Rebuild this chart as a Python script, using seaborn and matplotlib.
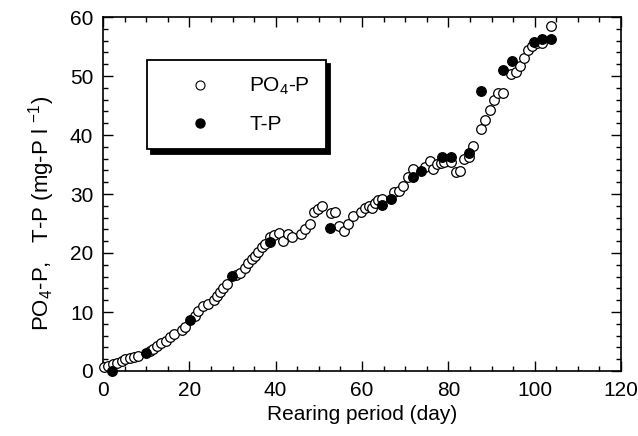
import matplotlib
matplotlib.use("Agg")
import matplotlib.pyplot as plt
import matplotlib.legend as mlegend
from matplotlib.patches import Shadow
from matplotlib.ticker import MultipleLocator
from matplotlib.lines import Line2D
import seaborn as sns
import pandas as pd

# ---------------- data ----------------
po4_day = [0.3, 1.2, 2.3, 3.3, 4.3, 5.2, 6.2, 7.1, 8.1, 10.8, 11.6, 12.6, 13.5, 14.5,
           15.5, 16.5, 18.2, 19.0, 21.3, 22.0, 23.2, 24.3, 25.6, 26.4, 27.1, 27.9,
           28.7, 30.8, 31.8, 32.9, 33.7, 34.5, 35.3, 36.0, 36.8, 37.6, 38.7, 39.7,
           40.8, 41.8, 42.8, 43.8, 45.9, 46.9, 47.9, 48.8, 49.8, 50.7, 52.9, 53.8,
           54.7, 55.8, 56.8, 57.8, 59.7, 60.8, 61.7, 62.4, 62.9, 63.8, 64.7, 67.5,
           68.6, 69.6, 70.6, 71.9, 74.6, 75.7, 76.5, 77.3, 78.3, 79.0, 80.6, 81.7,
           82.7, 83.6, 84.7, 85.7, 87.6, 88.6, 89.6, 90.6, 91.6, 92.6, 94.6, 95.6,
           96.6, 97.5, 98.5, 99.3, 100.5, 101.6, 103.8]
po4_val = [0.6, 0.9, 1.2, 1.4, 1.7, 2.0, 2.2, 2.4, 2.5, 3.4, 3.8, 4.2, 4.7, 5.1,
           5.7, 6.2, 6.9, 7.4, 9.3, 10.2, 11.0, 11.3, 12.0, 12.7, 13.4, 14.0,
           14.7, 16.2, 16.6, 17.4, 18.3, 18.9, 19.5, 20.2, 21.1, 21.5, 22.7, 23.0,
           23.4, 22.1, 23.2, 22.7, 23.3, 24.1, 24.9, 26.9, 27.4, 28.0, 26.8, 27.0,
           24.5, 23.8, 25.0, 26.2, 26.9, 27.6, 28.0, 27.6, 28.5, 29.0, 29.2, 30.3,
           30.5, 31.3, 32.9, 34.2, 34.5, 35.6, 34.2, 35.1, 35.3, 35.5, 35.5, 33.8,
           33.9, 36.0, 36.3, 38.1, 41.1, 42.5, 44.2, 46.0, 47.1, 47.1, 50.3, 50.6,
           51.7, 53.0, 54.4, 55.1, 55.6, 55.6, 58.4]

tp_day = [2.1, 10.0, 20.1, 29.9, 38.8, 52.7, 64.7, 66.7, 71.7, 73.7, 78.6, 80.6,
          84.8, 87.6, 92.7, 94.7, 99.8, 101.8, 103.8]
tp_val = [0.0, 3.0, 8.7, 16.1, 21.8, 24.3, 28.1, 29.2, 32.9, 33.9, 36.3, 36.3,
          36.9, 47.5, 51.1, 52.6, 55.8, 56.3, 56.3]

x_ticks = [0, 20, 40, 60, 80, 100, 120]
y_ticks = [0, 10, 20, 30, 40, 50, 60]
x_label = "Rearing period (day)"
y_label = r"PO$_4$-P,   T-P (mg-P l $^{-1}$)"
series_labels = [r"PO$_4$-P", "T-P"]

po4 = pd.DataFrame({"day": po4_day, "val": po4_val})
tp = pd.DataFrame({"day": tp_day, "val": tp_val})

# ---------------- style ----------------
sns.set_style("ticks")
plt.rcParams["font.family"] = ["Liberation Sans", "DejaVu Sans"]
plt.rcParams["mathtext.fontset"] = "custom"
plt.rcParams["mathtext.rm"] = "Liberation Sans"
plt.rcParams["mathtext.it"] = "Liberation Sans:italic"
plt.rcParams["mathtext.bf"] = "Liberation Sans:bold"
for k in ["text.color", "axes.labelcolor", "xtick.color", "ytick.color",
          "axes.edgecolor"]:
    plt.rcParams[k] = "black"

# larger, solid legend shadow
_orig_shadow = Shadow
def _shadow(patch, ox, oy, **kw):
    return _orig_shadow(patch, 3.0, -3.0, **kw)
mlegend.Shadow = _shadow

fig = plt.figure(figsize=(6.38, 4.36), dpi=100)
ax = fig.add_axes([103 / 638, 1 - 371 / 436, 518 / 638, 354 / 436])

sns.scatterplot(data=po4, x="day", y="val", ax=ax, marker="o", s=48,
                color="white", edgecolor="black", linewidth=0.9, clip_on=False,
                zorder=3)
sns.scatterplot(data=tp, x="day", y="val", ax=ax, marker="o", s=48,
                color="black", edgecolor="black", linewidth=0.9, clip_on=False,
                zorder=4)

ax.set_xlim(0, 120)
ax.set_ylim(0, 60)
ax.set_xticks(x_ticks)
ax.set_yticks(y_ticks)
ax.xaxis.set_minor_locator(MultipleLocator(5))
ax.yaxis.set_minor_locator(MultipleLocator(2))
ax.tick_params(which="both", direction="in", top=True, right=True,
               width=1.0, colors="black")
ax.tick_params(which="major", length=7.5, labelsize=15, pad=7)
ax.tick_params(which="minor", length=3.8)
for sp in ax.spines.values():
    sp.set_visible(True)
    sp.set_linewidth(1.2)
    sp.set_color("black")

ax.set_xlabel(x_label, fontsize=15, labelpad=4)
ax.set_ylabel(y_label, fontsize=16)
ax.yaxis.set_label_coords(-0.088, 0.445)

handles = [
    Line2D([], [], linestyle="none", marker="o", markersize=6.5,
           markerfacecolor="white", markeredgecolor="black", markeredgewidth=0.8),
    Line2D([], [], linestyle="none", marker="o", markersize=6.5,
           markerfacecolor="black", markeredgecolor="black"),
]
leg = ax.legend(handles, series_labels, loc="upper left",
                bbox_to_anchor=(0.085, 0.878), borderaxespad=0,
                fontsize=15, frameon=True, fancybox=False,
                shadow={"color": "black", "alpha": 1.0},
                borderpad=0.75, handlelength=3.6, handletextpad=0.55,
                labelspacing=0.85)
leg.get_frame().set_edgecolor("black")
leg.get_frame().set_linewidth(1.3)
leg.get_frame().set_alpha(1.0)

fig.savefig("out.png", dpi=100)
